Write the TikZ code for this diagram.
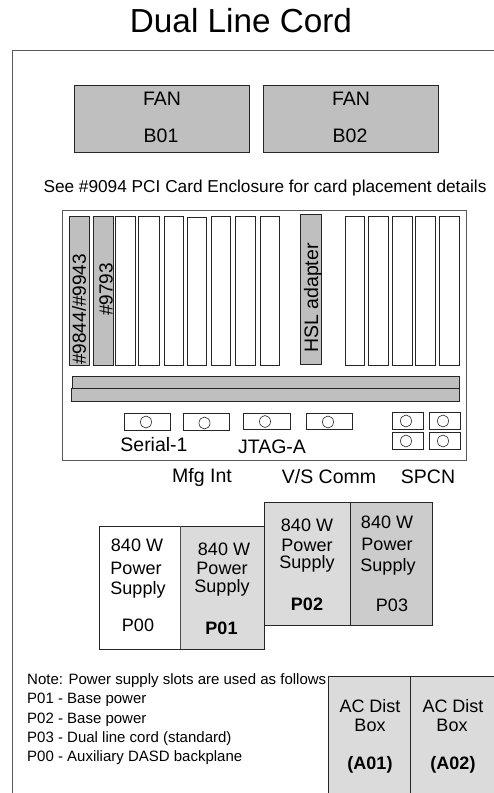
\documentclass[tikz,border=0pt]{standalone}
\usepackage{fontspec}
\setmainfont{Liberation Sans}
\newcommand{\fs}[1]{\fontsize{#1}{#1}\selectfont}

\begin{document}
\begin{tikzpicture}[
    x=1pt, y=-1pt,
    frameline/.style={draw=black!65, line width=1pt},
    grayblock/.style={draw=black!85, line width=0.8pt, fill=black!25},
    psublock/.style={draw=black!85, line width=0.9pt, fill=black!14},
    slotbox/.style={draw=black!85, line width=0.7pt, fill=white},
    graycard/.style={draw=black!85, line width=0.7pt, fill=black!25},
    portbox/.style={draw=black!85, line width=0.7pt, fill=white},
    portring/.style={draw=black!85, line width=0.6pt, fill=white},
    label12/.style={inner sep=0pt, font=\fs{19.5}},
    pstext/.style={inner sep=0pt, font=\fs{18}, align=center},
    notetext/.style={inner sep=0pt, anchor=west, font=\fs{15}},
    cardtext/.style={inner sep=0pt, rotate=90, font=\fs{19}}
]
\useasboundingbox (0,0) rectangle (494,793);
\clip (0,0) rectangle (494,793);
\node[inner sep=0pt, font=\fs{33.3}] (title) at (241,21) {Dual Line Cord};
\draw[frameline] (12,793) -- (12,50) -- (494,50);
% fans
\draw[grayblock] (74,85) rectangle (249,152);
\draw[grayblock] (263,85) rectangle (438,152);
\node[label12] (fan1) at (162,99) {FAN};
\node[label12] (b01) at (161,136) {B01};
\node[label12] (fan2) at (351,99) {FAN};
\node[label12] (b02) at (350,136) {B02};
\node[inner sep=0pt, font=\fs{17.25}] (see) at (265,188) {See \#9094 PCI Card Enclosure for card placement details};
% enclosure and slots
\draw[frameline, fill=white] (62,210) rectangle (466,460);
\draw[graycard] (69,216) rectangle (89,365);
\draw[graycard] (93,216) rectangle (113,365);
\draw[slotbox] (115,216) rectangle (135,365);
\draw[slotbox] (138,216) rectangle (159,365);
\draw[slotbox] (164,216) rectangle (183,365);
\draw[slotbox] (187,217) rectangle (206,365);
\draw[slotbox] (211,216) rectangle (230,365);
\draw[slotbox] (235,216) rectangle (255,365);
\draw[slotbox] (260,216) rectangle (279,365);
\draw[graycard] (300,214) rectangle (321,364);
\draw[slotbox] (345,216) rectangle (364,365);
\draw[slotbox] (368,216) rectangle (388,365);
\draw[slotbox] (392,216) rectangle (412,365);
\draw[slotbox] (415,216) rectangle (435,365);
\draw[slotbox] (439,216) rectangle (459,365);
\node[cardtext, anchor=west] (c9844) at (79,365) {\#9844/\#9943};
\node[cardtext, anchor=west] (c9793) at (106,316) {\#9793};
\node[cardtext, anchor=west, font=\fs{19.5}] (hsl) at (313,353) {HSL adapter};
% bars
\draw[grayblock] (72,376) rectangle (459,388);
\draw[grayblock] (71,388) rectangle (459,401);
% ports
\draw[portbox] (124,413) rectangle (170,430);
\draw[portring] (146,422) ellipse (5.5 and 6);
\draw[portbox] (183,413.5) rectangle (229,430.5);
\draw[portring] (204.5,423) ellipse (5.5 and 6);
\draw[portbox] (243,413) rectangle (290,429.5);
\draw[portring] (265,421.5) ellipse (5.5 and 6);
\draw[portbox] (306,413) rectangle (352,429.5);
\draw[portring] (328,422) ellipse (5.5 and 6);
\draw[portbox] (392,412) rectangle (423,429);
\draw[portring] (406,421) ellipse (5.5 and 6);
\draw[portbox] (429,412) rectangle (460,429);
\draw[portring] (443,421) ellipse (5.5 and 6);
\draw[portbox] (392,432) rectangle (423,449);
\draw[portring] (406,441) ellipse (5.5 and 6);
\draw[portbox] (429,432) rectangle (460,449);
\draw[portring] (443,441) ellipse (5.5 and 6);
\node[label12] (serial) at (154,445) {Serial-1};
\node[label12] (jtag) at (272,447) {JTAG-A};
\node[label12] (mfg) at (202,477) {Mfg Int};
\node[label12] (vscomm) at (329,477) {V/S Comm};
\node[label12] (spcn) at (428,477) {SPCN};
% power supplies
\draw[psublock, fill=white] (99.5,526) rectangle (180,649);
\draw[psublock] (180.5,526) rectangle (264.5,649);
\draw[psublock] (264.5,502) rectangle (350,625);
\draw[psublock, fill=black!20] (350,502) rectangle (432.5,625);
\draw[draw=black!70, line width=1.5pt] (180.5,526) -- (180.5,649);
\node[pstext] (p00a) at (137,545) {840 W};
\node[pstext] (p00b) at (136,568) {Power};
\node[pstext] (p00c) at (138,590) {Supply};
\node[pstext] (p00d) at (138,625) {P00};
\node[pstext] (p01a) at (224,549) {840 W};
\node[pstext] (p01b) at (222,568) {Power};
\node[pstext] (p01c) at (222,588) {Supply};
\node[pstext] (p01d) at (221.5,628) {\textbf{P01}};
\node[pstext] (p02a) at (307,525) {840 W};
\node[pstext] (p02b) at (307,545) {Power};
\node[pstext] (p02c) at (307,564) {Supply};
\node[pstext] (p02d) at (307,604) {\textbf{P02}};
\node[pstext] (p03a) at (387,522) {840 W};
\node[pstext] (p03b) at (387,544) {Power};
\node[pstext] (p03c) at (388,567) {Supply};
\node[pstext] (p03d) at (392,605) {P03};
% note
\node[notetext] (note0) at (27,681) {Note: Power supply slots are used as follows};
\node[notetext] (note1) at (27,700) {P01 - Base power};
\node[notetext] (note2) at (27,720) {P02 - Base power};
\node[notetext] (note3) at (27,739) {P03 - Dual line cord (standard)};
\node[notetext] (note4) at (27,758) {P00 - Auxiliary DASD backplane};
% ac boxes
\draw[psublock] (328,676) rectangle (410.5,800);
\draw[psublock] (410.5,676) rectangle (500,800);
\node[pstext] (ac1a) at (370,706) {AC Dist};
\node[pstext] (ac1b) at (370,725) {Box};
\node[pstext] (ac1c) at (370,765) {\textbf{(A01)}};
\node[pstext] (ac2a) at (453,706) {AC Dist};
\node[pstext] (ac2b) at (452,725) {Box};
\node[pstext] (ac2c) at (453,765) {\textbf{(A02)}};
\end{tikzpicture}
\end{document}
